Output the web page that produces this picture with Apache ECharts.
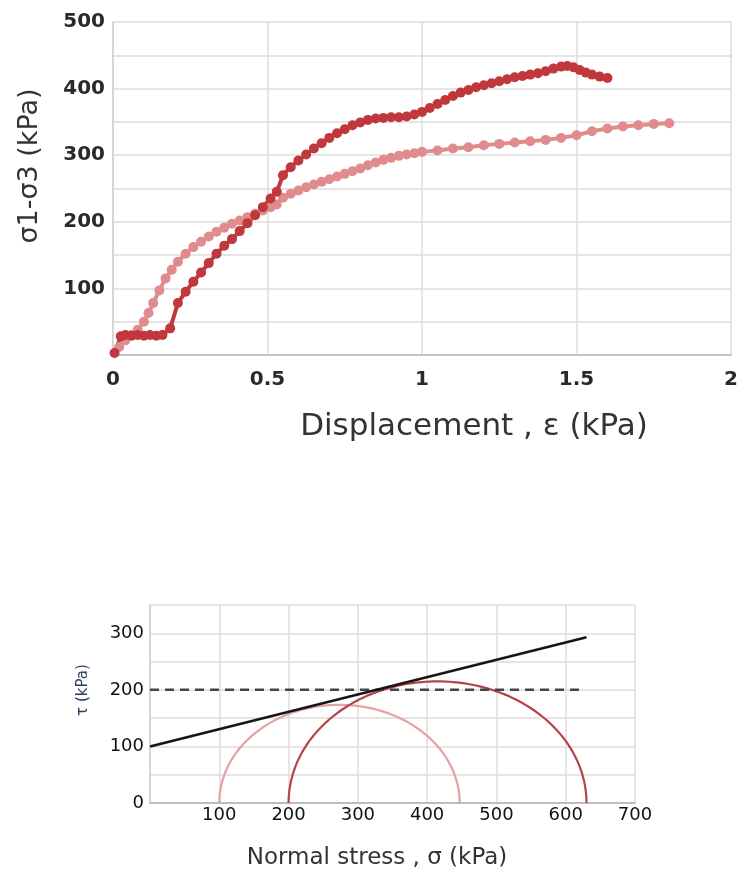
<!DOCTYPE html>
<html>
<head>
<meta charset="utf-8">
<script src="https://cdn.jsdelivr.net/npm/echarts@6/dist/echarts.min.js"></script>
<style>
  html, body { margin: 0; padding: 0; background: #fff; }
  #chart { width: 741px; height: 878px; }
</style>
</head>
<body>
<div id="chart"></div>
<script>
// deviator stress vs displacement, two tests
const testDark = [
  [0.005, 3], [0.025, 28], [0.04, 30], [0.06, 29], [0.08, 30], [0.1, 29], [0.12, 30], [0.14, 29], [0.16, 30],
  [0.185, 40], [0.21, 78], [0.235, 95], [0.26, 110], [0.285, 124], [0.31, 138], [0.335, 152], [0.36, 164],
  [0.385, 174], [0.41, 186], [0.435, 198], [0.46, 210], [0.485, 222], [0.51, 235], [0.53, 245],
  [0.55, 270], [0.575, 282], [0.6, 292], [0.625, 301], [0.65, 310], [0.675, 318], [0.7, 326], [0.725, 333],
  [0.75, 339], [0.775, 345], [0.8, 349], [0.825, 353], [0.85, 355], [0.875, 356], [0.9, 357], [0.925, 357],
  [0.95, 358], [0.975, 361], [1.0, 365], [1.025, 371], [1.05, 377], [1.075, 383], [1.1, 389], [1.125, 394],
  [1.15, 398], [1.175, 402], [1.2, 405], [1.225, 408], [1.25, 411], [1.275, 414], [1.3, 417], [1.325, 419],
  [1.35, 421], [1.375, 423], [1.4, 426], [1.425, 430], [1.45, 433], [1.47, 434], [1.49, 432], [1.51, 428],
  [1.53, 424], [1.55, 421], [1.575, 418], [1.6, 416]
];
const testLight = [
  [0.02, 12], [0.04, 22], [0.06, 30], [0.08, 38], [0.1, 50], [0.115, 63], [0.13, 78], [0.15, 97], [0.17, 115],
  [0.19, 128], [0.21, 140], [0.235, 152], [0.26, 162], [0.285, 170], [0.31, 178], [0.335, 185], [0.36, 191],
  [0.385, 197], [0.41, 202], [0.435, 207], [0.46, 212], [0.485, 217], [0.51, 222], [0.53, 226], [0.55, 236],
  [0.575, 242], [0.6, 247], [0.625, 252], [0.65, 256], [0.675, 260], [0.7, 264], [0.725, 268], [0.75, 272],
  [0.775, 276], [0.8, 280], [0.825, 285], [0.85, 289], [0.875, 293], [0.9, 296], [0.925, 299], [0.95, 301],
  [0.975, 303], [1.0, 305], [1.05, 307], [1.1, 310], [1.15, 312], [1.2, 315], [1.25, 317], [1.3, 319],
  [1.35, 321], [1.4, 323], [1.45, 326], [1.5, 330], [1.55, 336], [1.6, 340], [1.65, 343], [1.7, 345],
  [1.75, 347], [1.8, 348]
];

// Mohr-Coulomb part
const envelope = [[0, 100], [630, 293]];
const peakShear = [[0, 200], [625, 200]];
const mohrCircles = [[100, 447], [200, 630]]; // [sigma3, sigma1]
const circleColors = ['#e4a2a3', '#b4444a'];

const tickFont = 'DejaVu Sans';

function drawCircle(params, api) {
  const s3 = api.value(0);
  const s1 = api.value(1);
  const c = (s1 + s3) / 2;
  const r = (s1 - s3) / 2;
  const pts = [];
  for (let i = 0; i <= 120; i++) {
    const a = Math.PI * i / 120;
    pts.push(api.coord([c + r * Math.cos(a), r * Math.sin(a)]));
  }
  return {
    type: 'polyline',
    shape: { points: pts },
    style: { stroke: circleColors[params.dataIndex], lineWidth: 2.2, fill: 'none' }
  };
}

const chart = echarts.init(document.getElementById('chart'));

chart.setOption({
  animation: false,
  backgroundColor: '#fff',
  grid: [
    { left: 113, top: 22, width: 626, height: 333 },
    { left: 150, top: 605, width: 485, height: 198 }
  ],
  xAxis: [
    {
      gridIndex: 0, type: 'value', min: 0, max: 2, interval: 0.5,
      axisLine: { lineStyle: { color: '#c4c4c4', width: 2 } },
      axisTick: { show: false },
      splitLine: { lineStyle: { color: '#dcdcdc', width: 1.5 } },
      axisLabel: { color: '#2a2a2a', fontFamily: tickFont, fontWeight: 'bold', fontSize: 20, margin: 15 }
    },
    {
      gridIndex: 1, type: 'value', min: 0, max: 700, interval: 100,
      axisLine: { lineStyle: { color: '#bdbdbd', width: 2 } },
      axisTick: { show: false },
      splitLine: { lineStyle: { color: '#dcdcdc', width: 1.5 } },
      axisLabel: { color: '#111', fontFamily: tickFont, fontSize: 18, margin: 3,
        formatter: v => v === 0 ? '' : v }
    }
  ],
  yAxis: [
    {
      gridIndex: 0, type: 'value', min: 0, max: 500, interval: 50,
      axisLine: { show: true, lineStyle: { color: '#d0d0d0', width: 1.5 } },
      axisTick: { show: false },
      splitLine: { lineStyle: { color: '#dcdcdc', width: 1.5 } },
      axisLabel: { color: '#2a2a2a', fontFamily: tickFont, fontWeight: 'bold', fontSize: 20, margin: 8,
        formatter: v => (v > 0 && v % 100 === 0) ? v : '' }
    },
    {
      gridIndex: 1, type: 'value', min: 0, max: 350, interval: 50,
      axisLine: { show: true, lineStyle: { color: '#d0d0d0', width: 1.5 } },
      axisTick: { show: false },
      splitLine: { lineStyle: { color: '#dcdcdc', width: 1.5 } },
      axisLabel: { color: '#111', fontFamily: tickFont, fontSize: 18, margin: 6,
        formatter: v => v % 100 === 0 ? v : '' }
    }
  ],
  graphic: [
    { type: 'text', x: 30, y: 166, rotation: Math.PI / 2,
      style: { text: 'σ1-σ3 (kPa)', font: '27px "DejaVu Sans"', fill: '#333', align: 'center', verticalAlign: 'middle' } },
    { type: 'text', x: 474, y: 427,
      style: { text: 'Displacement , ε (kPa)', font: '31px "DejaVu Sans"', fill: '#333', align: 'center', verticalAlign: 'middle' } },
    { type: 'text', x: 83, y: 690, rotation: Math.PI / 2,
      style: { text: 'τ (kPa)', font: '15px "DejaVu Sans"', fill: '#2e3a66', align: 'center', verticalAlign: 'middle' } },
    { type: 'text', x: 377, y: 858,
      style: { text: 'Normal stress , σ (kPa)', font: '23px "DejaVu Sans"', fill: '#333', align: 'center', verticalAlign: 'middle' } }
  ],
  series: [
    {
      type: 'line', xAxisIndex: 0, yAxisIndex: 0, data: testLight,
      symbol: 'circle', symbolSize: 10, color: '#e08c8e',
      lineStyle: { width: 4, color: '#e08c8e' }, itemStyle: { color: '#e08c8e' }
    },
    {
      type: 'line', xAxisIndex: 0, yAxisIndex: 0, data: testDark,
      symbol: 'circle', symbolSize: 10, color: '#c0383c',
      lineStyle: { width: 4, color: '#c0383c' }, itemStyle: { color: '#c0383c' }
    },
    {
      type: 'custom', xAxisIndex: 1, yAxisIndex: 1, data: mohrCircles,
      renderItem: drawCircle, silent: true
    },
    {
      type: 'line', xAxisIndex: 1, yAxisIndex: 1, data: peakShear, showSymbol: false,
      lineStyle: { color: '#444', width: 2.5, type: [9, 6] }
    },
    {
      type: 'line', xAxisIndex: 1, yAxisIndex: 1, data: envelope, showSymbol: false,
      lineStyle: { color: '#151515', width: 2.5 }
    }
  ]
});
</script>
</body>
</html>
